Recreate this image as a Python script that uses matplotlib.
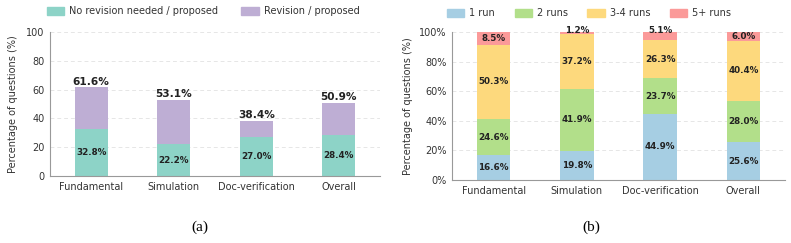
import matplotlib
matplotlib.use("Agg")
import matplotlib.pyplot as plt
import numpy as np
from matplotlib.patches import Patch

categories = ["Fundamental", "Simulation", "Doc-verification", "Overall"]

# (a) revision data
no_revision = [32.8, 22.2, 27.0, 28.4]
revision_total = [61.6, 53.1, 38.4, 50.9]
rev_labels = ["No revision needed / proposed", "Revision / proposed"]
rev_colors = ["#8DD3C7", "#BEAED4"]

# (b) runs data
run_labels = ["1 run", "2 runs", "3-4 runs", "5+ runs"]
run_1 = [16.6, 19.8, 44.9, 25.6]
run_2 = [24.6, 41.9, 23.7, 28.0]
run_34 = [50.3, 37.2, 26.3, 40.4]
run_5 = [8.5, 1.2, 5.1, 6.0]
run_colors = ["#A6CEE3", "#B2DF8A", "#FDD97D", "#FB9A99"]

W, H = 791, 243
fig = plt.figure(figsize=(W / 100, H / 100), dpi=100)

spine_c = "#999999"
tick_c = "#333333"
fs_tick = 7
fs_in = 6.3
fs_tot = 7.6
width = 0.4

def style(ax):
    for s in ["top", "right"]:
        ax.spines[s].set_visible(False)
    for s in ["left", "bottom"]:
        ax.spines[s].set_color(spine_c)
        ax.spines[s].set_linewidth(0.8)
    ax.tick_params(axis="both", length=0, labelsize=fs_tick, colors=tick_c, pad=4)
    ax.yaxis.grid(True, linestyle=(0, (4, 3)), color="#e6e6e6", linewidth=0.7)
    ax.set_axisbelow(True)
    ax.set_xlim(-0.5, len(categories) - 0.5)

# ---- (a)
ax1 = fig.add_axes([50 / W, (H - 176) / H, 330 / W, 144 / H])
x = np.arange(len(categories))
no_rev = np.array(no_revision)
rev = np.array(revision_total) - no_rev
ax1.bar(x, no_rev, width, color=rev_colors[0])
ax1.bar(x, rev, width, bottom=no_rev, color=rev_colors[1])
for i in range(len(categories)):
    ax1.text(x[i], no_rev[i] / 2, f"{no_revision[i]:.1f}%", ha="center", va="center",
             fontsize=fs_in, fontweight="bold", color="#222222")
    ax1.text(x[i], revision_total[i] + 0.3, f"{revision_total[i]:.1f}%", ha="center", va="bottom",
             fontsize=fs_tot, fontweight="bold", color="#222222")
ax1.set_ylim(0, 100)
ax1.set_yticks(np.arange(0, 101, 20))
ax1.set_xticks(x)
ax1.set_xticklabels(categories)
ax1.set_ylabel("Percentage of questions (%)", fontsize=fs_tick, color=tick_c, labelpad=6)
style(ax1)

fig.legend(handles=[Patch(color=c, label=l) for c, l in zip(rev_colors, rev_labels)],
           loc="center", bbox_to_anchor=(203 / W, 1 - 11 / H), ncol=2, frameon=False,
           fontsize=fs_tick, handlelength=1.8, handleheight=0.9, columnspacing=2.4,
           handletextpad=0.5, labelcolor=tick_c)

# ---- (b)
ax2 = fig.add_axes([452 / W, (H - 180) / H, 333 / W, 148 / H])
runs = [run_1, run_2, run_34, run_5]
bottom = np.zeros(len(categories))
for k, (vals, col) in enumerate(zip(runs, run_colors)):
    vals = np.array(vals)
    ax2.bar(x, vals, width, bottom=bottom, color=col)
    for i in range(len(categories)):
        if vals[i] < 5.5:
            yy = bottom[i] + vals[i] + 1.0
        else:
            yy = bottom[i] + vals[i] / 2
        ax2.text(x[i], yy, f"{vals[i]:.1f}%", ha="center", va="center",
                 fontsize=fs_in, fontweight="bold", color="#222222")
    bottom = bottom + vals
ax2.set_ylim(0, 100)
ax2.set_yticks(np.arange(0, 101, 20))
ax2.set_yticklabels([f"{v}%" for v in range(0, 101, 20)])
ax2.set_xticks(x)
ax2.set_xticklabels(categories)
ax2.set_ylabel("Percentage of questions (%)", fontsize=fs_tick, color=tick_c, labelpad=4)
style(ax2)

fig.legend(handles=[Patch(color=c, label=l) for c, l in zip(run_colors, run_labels)],
           loc="center", bbox_to_anchor=(589 / W, 1 - 13 / H), ncol=4, frameon=False,
           fontsize=fs_tick, handlelength=1.8, handleheight=0.9, columnspacing=2.0,
           handletextpad=0.5, labelcolor=tick_c)

# captions
fig.text(200 / W, 1 - 227 / H, "(a)", ha="center", va="center", fontsize=11,
         family="Liberation Serif")
fig.text(591 / W, 1 - 227 / H, "(b)", ha="center", va="center", fontsize=11,
         family="Liberation Serif")

fig.savefig("out.png", dpi=100)
